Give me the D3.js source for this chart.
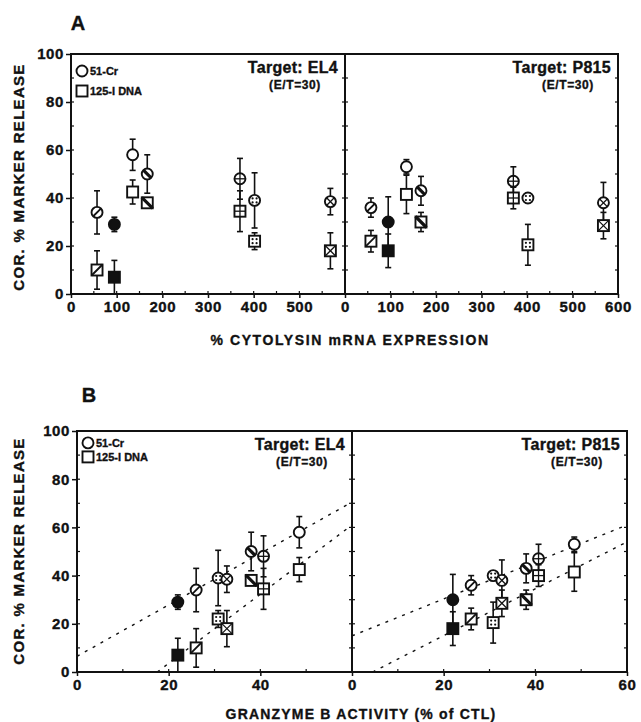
<!DOCTYPE html>
<html>
<head>
<meta charset="utf-8">
<script src="https://cdn.jsdelivr.net/npm/d3@7"></script>
<style>
  body { margin: 0; background: #fff; }
  text { font-family: "Liberation Sans", Arial, sans-serif; font-weight: bold; fill: #111;
         stroke: #111; stroke-width: 0.35px; }
</style>
</head>
<body>
<div id="chart"></div>
<script>
"use strict";

// the same 7 CTL clones appear in every panel; each has its own marker fill
const fillKinds = ["slash", "solid", "open", "back", "plus", "dots", "cross"];
const cytolysin = [57, 95, 135, 167, 370, 402, 568];   // % cytolysin mRNA expression
const granzyme  = [26, 22, 48.5, 38, 40.7, 30.8, 32.7]; // granzyme B activity (% of CTL)

// corrected % marker release, E/T = 30
const el4Cr      = [34, 29, 58, 50, 48, 39, 38.5];
const el4CrErr   = [9, 3, 6.5, 8, 8.5, 11.5, 5.5];
const el4Dna     = [10, 7, 42.5, 38, 34.5, 22, 18];
const el4DnaErr  = [8, 7, 5, 2, 8.5, 3.5, 7.5];
const p815Cr     = [36, 30, 53, 43, 47, 40, 38];
const p815CrErr  = [4, 10.5, 3, 6, 6, 1, 8.5];
const p815Dna    = [22, 18, 41.5, 30, 40, 20.5, 28.5];
const p815DnaErr = [4.5, 7, 8, 4, 4.5, 8.5, 5.5];

// dotted regression lines of panel B, [x, y] end points
const fitEl4Cr   = [[0, 6.5], [60, 70.5]];
const fitEl4Dna  = [[17.5, 0], [60, 61]];
const fitP815Cr  = [[0, 15], [60, 61]];
const fitP815Dna = [[4.5, 0], [60, 54]];

const yTicks = [0, 20, 40, 60, 80, 100];
const cytoTicksLeft  = [0, 100, 200, 300, 400, 500];
const cytoTicksRight = [0, 100, 200, 300, 400, 500, 600];
const granTicksLeft  = [0, 20, 40];
const granTicksRight = [0, 20, 40, 60];

const width = 641, height = 722;
const ink = "#111";

const svg = d3.select("#chart").append("svg")
  .attr("width", width)
  .attr("height", height);

function marker(g, shape, kind, cx, cy) {
  const r = 5.5;
  const m = g.append("g").attr("transform", `translate(${cx},${cy})`);
  const fill = kind === "solid" ? ink : "#fff";
  if (shape === "circle") {
    m.append("circle").attr("r", r);
  } else {
    m.append("rect").attr("x", -r).attr("y", -r).attr("width", 2 * r).attr("height", 2 * r);
  }
  m.selectAll("circle,rect").attr("fill", fill).attr("stroke", ink).attr("stroke-width", 1.9);
  const k = shape === "circle" ? r * 0.7 : r;
  const seg = (x1, y1, x2, y2, w) => m.append("line")
    .attr("x1", x1).attr("y1", y1).attr("x2", x2).attr("y2", y2)
    .attr("stroke", ink).attr("stroke-width", w || 1.3);
  if (kind === "slash") seg(-k, k, k, -k, 1.8);
  if (kind === "back") seg(-k, -k, k, k, 3.2);
  if (kind === "plus") { seg(-r, 0, r, 0); seg(0, -r, 0, r); }
  if (kind === "cross") { seg(-k, -k, k, k); seg(-k, k, k, -k); }
  if (kind === "dots") {
    [[-2, -2], [2, -2], [-2, 2], [2, 2]].forEach(([dx, dy]) =>
      m.append("circle").attr("cx", dx).attr("cy", dy).attr("r", 1.1).attr("fill", ink));
  }
}

function errorBar(g, x, yLo, yHi) {
  const cap = 3;
  g.append("line").attr("x1", x).attr("x2", x).attr("y1", yLo).attr("y2", yHi)
    .attr("stroke", ink).attr("stroke-width", 1.6);
  [yLo, yHi].forEach(yy => g.append("line")
    .attr("x1", x - cap).attr("x2", x + cap).attr("y1", yy).attr("y2", yy)
    .attr("stroke", ink).attr("stroke-width", 1.6));
}

function drawPanel(p) {
  const x = d3.scaleLinear().domain(p.xDomain).range([p.left, p.right]);
  const y = d3.scaleLinear().domain([0, 100]).range([p.bottom, p.top]);
  const g = svg.append("g");

  const clipId = "clip" + p.id;
  svg.append("clipPath").attr("id", clipId)
    .append("rect").attr("x", p.left).attr("y", p.top)
    .attr("width", p.right - p.left).attr("height", p.bottom - p.top);

  // fit lines
  const line = d3.line().x(d => x(d[0])).y(d => y(d[1]));
  (p.fits || []).forEach(f => g.append("path")
    .attr("d", line(f))
    .attr("clip-path", `url(#${clipId})`)
    .attr("fill", "none").attr("stroke", ink)
    .attr("stroke-width", 1.4).attr("stroke-dasharray", "3,6"));

  // error bars then markers
  p.xVals.forEach((xv, i) => {
    errorBar(g, x(xv), y(Math.max(0, p.dna[i] - p.dnaErr[i])), y(p.dna[i] + p.dnaErr[i]));
    errorBar(g, x(xv), y(Math.max(0, p.cr[i] - p.crErr[i])), y(p.cr[i] + p.crErr[i]));
  });
  p.xVals.forEach((xv, i) => marker(g, "rect", fillKinds[i], x(xv), y(p.dna[i])));
  p.xVals.forEach((xv, i) => marker(g, "circle", fillKinds[i], x(xv), y(p.cr[i])));

  // frame
  g.append("rect").attr("x", p.left).attr("y", p.top)
    .attr("width", p.right - p.left).attr("height", p.bottom - p.top)
    .attr("fill", "none").attr("stroke", ink).attr("stroke-width", 2);

  // inner minor ticks on left and right edges
  d3.range(10, 100, 10).forEach(v => {
    [[p.left, 3], [p.right, -3]].forEach(([ex, d]) => g.append("line")
      .attr("x1", ex).attr("x2", ex + d).attr("y1", y(v)).attr("y2", y(v))
      .attr("stroke", ink).attr("stroke-width", 1.2));
  });
  d3.range(p.xDomain[0] + p.xMinor, p.xDomain[1], p.xMinor).forEach(v => g.append("line")
    .attr("x1", x(v)).attr("x2", x(v)).attr("y1", p.bottom).attr("y2", p.bottom - 3)
    .attr("stroke", ink).attr("stroke-width", 1.2));

  // bottom axis
  const ax = g.append("g").attr("transform", `translate(0,${p.bottom})`)
    .call(d3.axisBottom(x).tickValues(p.xTicks).tickSize(4).tickPadding(3));
  ax.select(".domain").remove();
  ax.selectAll("line").attr("stroke", ink).attr("stroke-width", 1.5);
  ax.selectAll("text").attr("font-size", 15).attr("font-family", null).attr("letter-spacing", 0.6);

  if (p.yLabels) {
    const ay = g.append("g").attr("transform", `translate(${p.left},0)`)
      .call(d3.axisLeft(y).tickValues(yTicks).tickSize(5).tickPadding(2));
    ay.select(".domain").remove();
    ay.selectAll("line").attr("stroke", ink).attr("stroke-width", 1.5);
    ay.selectAll("text").attr("font-size", 15).attr("font-family", null).attr("letter-spacing", 0.6);

    // legend
    marker(g, "circle", "open", p.left + 11, p.top + p.legGap * 0.85);
    marker(g, "rect", "open", p.left + 11, p.top + p.legGap * 1.85);
    g.append("text").attr("x", p.left + 19).attr("y", p.top + p.legGap * 0.85)
      .attr("dy", "0.35em").attr("font-size", 11).text("51-Cr");
    g.append("text").attr("x", p.left + 19).attr("y", p.top + p.legGap * 1.85)
      .attr("dy", "0.35em").attr("font-size", 11).text("125-I DNA");
  }

  g.append("text").attr("x", p.right - 7).attr("y", p.top + 13)
    .attr("dy", "0.35em").attr("text-anchor", "end")
    .attr("font-size", 16).attr("letter-spacing", 0.3)
    .text("Target: " + p.target);
  g.append("text").attr("x", p.right - 50).attr("y", p.top + 31)
    .attr("dy", "0.35em").attr("text-anchor", "middle")
    .attr("font-size", 12).attr("letter-spacing", 0.6)
    .text("(E/T=30)");
}

const rowA = { top: 54, bottom: 294, xDomain: [0, 600], xMinor: 50, xVals: cytolysin, legGap: 20 };
const rowB = { top: 431, bottom: 672, xDomain: [0, 60], xMinor: 10, xVals: granzyme, legGap: 14 };

drawPanel(Object.assign({}, rowA, { id: "AL", left: 71, right: 345, xTicks: cytoTicksLeft,
  cr: el4Cr, crErr: el4CrErr, dna: el4Dna, dnaErr: el4DnaErr, target: "EL4", yLabels: true }));
drawPanel(Object.assign({}, rowA, { id: "AR", left: 345, right: 618, xTicks: cytoTicksRight,
  cr: p815Cr, crErr: p815CrErr, dna: p815Dna, dnaErr: p815DnaErr, target: "P815" }));
drawPanel(Object.assign({}, rowB, { id: "BL", left: 77, right: 352, xTicks: granTicksLeft,
  cr: el4Cr, crErr: el4CrErr, dna: el4Dna, dnaErr: el4DnaErr, target: "EL4", yLabels: true,
  fits: [fitEl4Cr, fitEl4Dna] }));
drawPanel(Object.assign({}, rowB, { id: "BR", left: 352, right: 627, xTicks: granTicksRight,
  cr: p815Cr, crErr: p815CrErr, dna: p815Dna, dnaErr: p815DnaErr, target: "P815",
  fits: [fitP815Cr, fitP815Dna] }));

// panel letters and axis titles
svg.append("text").attr("x", 78).attr("y", 23).attr("dy", "0.35em")
  .attr("text-anchor", "middle").attr("font-size", 20).text("A");
svg.append("text").attr("x", 89).attr("y", 395).attr("dy", "0.35em")
  .attr("text-anchor", "middle").attr("font-size", 20).text("B");

svg.append("text").attr("x", 350).attr("y", 340).attr("dy", "0.35em")
  .attr("text-anchor", "middle").attr("font-size", 14).attr("letter-spacing", 1.6)
  .text("% CYTOLYSIN mRNA EXPRESSION");
svg.append("text").attr("x", 361).attr("y", 714).attr("dy", "0.35em")
  .attr("text-anchor", "middle").attr("font-size", 14).attr("letter-spacing", 1.2)
  .text("GRANZYME B ACTIVITY (% of CTL)");

[177, 551].forEach(cy => svg.append("text")
  .attr("transform", `translate(19,${cy}) rotate(-90)`)
  .attr("dy", "0.35em").attr("text-anchor", "middle")
  .attr("font-size", 15).attr("letter-spacing", 1.3)
  .text("COR. % MARKER RELEASE"));
</script>
</body>
</html>
